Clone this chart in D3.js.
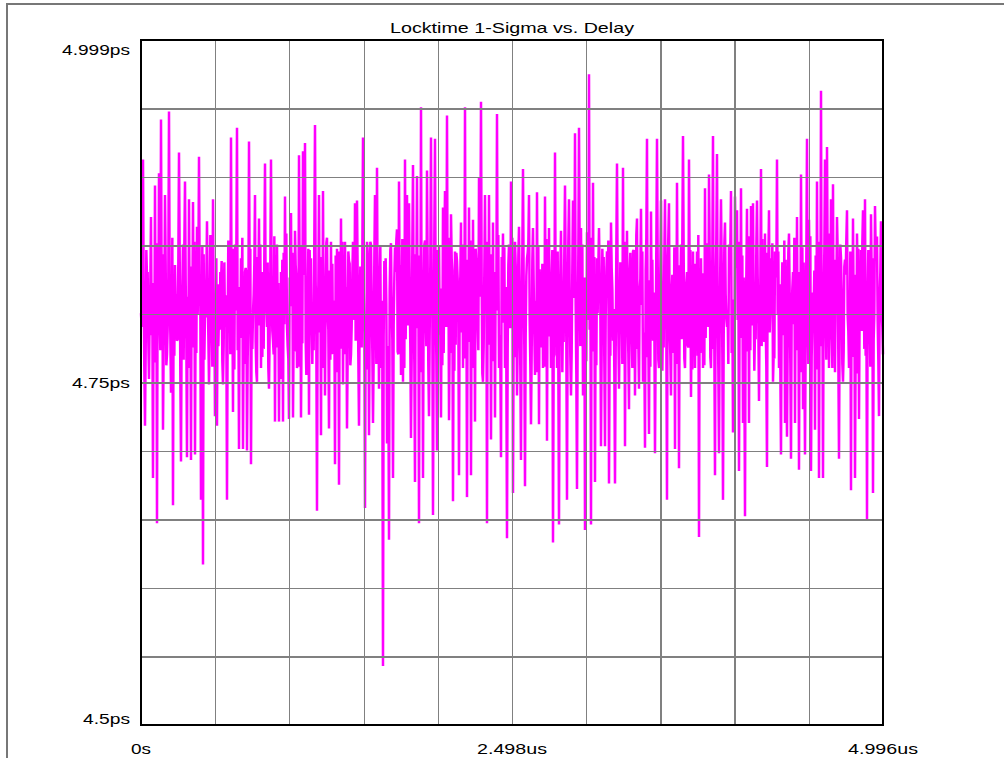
<!DOCTYPE html>
<html>
<head>
<meta charset="utf-8">
<script src="https://cdn.jsdelivr.net/npm/d3@7"></script>
<style>
  html, body { margin: 0; padding: 0; background: #ffffff; }
  svg { display: block; }
  text { font-family: "Liberation Sans", Arial, sans-serif; fill: #000; }
</style>
</head>
<body>
<svg id="chart" width="1004" height="758"></svg>
<script>
// ---- data ----
const chartTitle = "Locktime 1-Sigma vs. Delay";
const delayRangeUs = [0, 4.996];          // x axis: delay, microseconds
const sigmaRangePs = [4.5, 4.999];        // y axis: locktime 1-sigma, picoseconds
const xTickValues = [0, 2.498, 4.996];
const xTickLabels = ["0s", "2.498us", "4.996us"];
const yTickValues = [4.999, 4.75, 4.5];
const yTickLabels = ["4.999ps", "4.75ps", "4.5ps"];

// locktime 1-sigma (ps): spike samples, uniformly spaced over the delay range
const sigmaA = [4.800,4.912,4.718,4.826,4.752,4.870,4.680,4.893,4.647,4.902,
  4.941,4.715,4.886,4.770,4.947,4.742,4.660,4.835,4.780,4.917,
  4.692,4.850,4.896,4.695,4.883,4.693,4.881,4.697,4.863,4.914,
  4.664,4.617,4.800,4.867,4.748,4.835,4.883,4.725,4.718,4.800,
  4.822,4.748,4.790,4.664,4.830,4.928,4.728,4.850,4.935,4.701,
  4.840,4.701,4.830,4.700,4.925,4.690,4.800,4.886,4.750,4.869,
  4.760,4.830,4.909,4.790,4.745,4.912,4.780,4.721,4.850,4.721,
  4.830,4.721,4.885,4.790,4.723];
const sigmaB = [4.873,4.724,4.860,4.760,4.915,4.724,4.918,4.924,4.760,4.726,
  4.840,4.800,4.937,4.656,4.886,4.711,4.889,4.740,4.855,4.716,
  4.852,4.770,4.690,4.847,4.675,4.869,4.748,4.852,4.716,4.838,
  4.770,4.852,4.880,4.882,4.718,4.830,4.928,4.658,4.852,4.711,
  4.850,4.720,4.886,4.906,4.745,4.760,4.543,4.822,4.705,4.635,
  4.851,4.680,4.848,4.861,4.896,4.755,4.750,4.912,4.886,4.880,
  4.709,4.908,4.677,4.900,4.647,4.950,4.680,4.853,4.904,4.725,
  4.928,4.653,4.927,4.700];
const sigmaC = [4.849,4.724,4.877,4.889,4.944,4.722,4.872,4.663,4.845,4.838,
  4.682,4.866,4.760,4.950,4.666,4.877,4.682,4.868,4.721,4.840,
  4.899,4.954,4.750,4.886,4.647,4.886,4.708,4.866,4.724,4.945,
  4.760,4.695,4.858,4.760,4.636,4.850,4.896,4.669,4.852,4.740,
  4.863,4.693,4.905,4.674,4.840,4.886,4.719,4.862,4.755,4.888,
  4.719,4.830,4.760,4.885,4.707,4.862,4.760,4.633,4.917,4.760,
  4.646,4.860,4.800,4.893,4.664,4.883,4.740,4.882,4.931,4.672,
  4.935,4.862,4.740,4.642,4.859];
const sigmaD = [4.974,4.646,4.895,4.677,4.840,4.862,4.703,4.825,4.703,4.845,
  4.676,4.866,4.780,4.676,4.909,4.745,4.800,4.906,4.703,4.860,
  4.730,4.820,4.845,4.740,4.869,4.745,4.876,4.750,4.702,4.927,
  4.712,4.874,4.780,4.698,4.927,4.760,4.882,4.800,4.883,4.664,
  4.880,4.740,4.820,4.701,4.895,4.687,4.850,4.929,4.760,4.830,
  4.912,4.739,4.845,4.760,4.845,4.637,4.840,4.760,4.891,4.800,
  4.901,4.760,4.929,4.682,4.916,4.698,4.883,4.664,4.866,4.790,
  4.850,4.889,4.713,4.885];
const sigmaE = [4.875,4.685,4.891,4.720,4.652,4.876,4.720,4.878,4.880,4.787,
  4.882,4.736,4.905,4.780,4.858,4.688,4.875,4.840,4.750,4.845,
  4.912,4.760,4.697,4.820,4.720,4.710,4.858,4.694,4.830,4.720,
  4.870,4.686,4.901,4.730,4.697,4.927,4.868,4.685,4.815,4.715,
  4.896,4.680,4.962,4.680,4.912,4.921,4.760,4.883,4.894,4.757,
  4.870,4.694,4.840,4.750,4.839,4.875,4.760,4.671,4.869,4.680,
  4.858,4.723,4.846,4.875,4.883,4.650,4.800,4.872,4.669,4.878,
  4.855,4.725,4.867,4.770];

// in-band samples between consecutive spike samples (ps): first and second
const sigmaBand = [
  4.790,4.815,4.772,4.830,4.801,4.784,4.822,4.768,4.840,4.795,
  4.811,4.777,4.836,4.789,4.818,4.770,4.828,4.806,4.781,4.845,
  4.793,4.766,4.824,4.812,4.786,4.834,4.775,4.808,4.799,4.827,
  4.771,4.843,4.797,4.816,4.780,4.831,4.804,4.769,4.821,4.788,
  4.838,4.776,4.813,4.794,4.829,4.783,4.847,4.802,4.773,4.819,
  4.807,4.785,4.833,4.767,4.825,4.798,4.814,4.779,4.841,4.791,
  4.820,4.774,4.809,4.837,4.787,4.817,4.770,4.832,4.796,4.812,
  4.782,4.844,4.800,4.776,4.826,4.805,4.789,4.835,4.768,4.818,
  4.797,4.828,4.781,4.810,4.846,4.792,4.773,4.823,4.803,4.786,
  4.839,4.778,4.815,4.799,4.831,4.770,4.808,4.842,4.794,4.817,
  4.784,4.827,4.806,4.771,4.836,4.790,4.813,4.780,4.829,4.801,
  4.775,4.820,4.793,4.845,4.787,4.811,4.769,4.834,4.798,4.822,
  4.809,4.783,4.840,4.776,4.816,4.803,4.791,4.830,4.772,4.819,
  4.795,4.838,4.781,4.812,4.824,4.767,4.807,4.843,4.789,4.826,
  4.779,4.814,4.800,4.835,4.785,4.821,4.774,4.810,4.846,4.792,
  4.818,4.771,4.829,4.797,4.782,4.840,4.804,4.777,4.825,4.808,
  4.786,4.833,4.768,4.815,4.799,4.828,4.780,4.847,4.794,4.812,
  4.823,4.776,4.806,4.838,4.788,4.817,4.771,4.830,4.802,4.784,
  4.841,4.793,4.819,4.773,4.827,4.805,4.790,4.836,4.778,4.813,
  4.798,4.825,4.782,4.844,4.796,4.770,4.822,4.809,4.787,4.832,
  4.775,4.816,4.801,4.839,4.783,4.826,4.768,4.811,4.845,4.791,
  4.820,4.779,4.834,4.797,4.814,4.772,4.828,4.806,4.785,4.842,
  4.794,4.769,4.823,4.810,4.788,4.837,4.776,4.807,4.800,4.829,
  4.773,4.841,4.796,4.818,4.781,4.833,4.803,4.770,4.820,4.789,
  4.836,4.777,4.812,4.795,4.830,4.784,4.846,4.801,4.774,4.817,
  4.806,4.786,4.831,4.768,4.824,4.799,4.815,4.778,4.840,4.792,
  4.821,4.775,4.808,4.836,4.788,4.816,4.771,4.833,4.797,4.811,
  4.781,4.843,4.802,4.777,4.825,4.804,4.790,4.834,4.769,4.819,
  4.798,4.827,4.782,4.809,4.845,4.793,4.774,4.822,4.805,4.787,
  4.838,4.779,4.814,4.800,4.830,4.771,4.807,4.841,4.795,4.816,
  4.785,4.826,4.805,4.772,4.835,4.791,4.812,4.781,4.828,4.802,
  4.776,4.819,4.794,4.844,4.786,4.810,4.770,4.833,4.799,4.821,
  4.808,4.784,4.839,4.777,4.815,4.802,4.792,4.829,4.773,4.818,
  4.796,4.837,4.780,4.813,4.823,4.768,4.806,4.842,4.790,4.825,
  4.778,4.815,4.801,4.834,4.786,4.820,4.775,4.811,4.845,4.793,
  4.817,4.772,4.828,4.798,4.783,4.839,4.803,4.778,4.824,4.807,
  4.787,4.832,4.769,4.814,4.800,4.827,4.781,4.846,4.795,4.812,
  4.800];
const sigmaBand2 = [
  4.832,4.758,4.846,4.779,4.821,4.805,4.764,4.851,4.790,4.773,
  4.843,4.801,4.762,4.827,4.785,4.855,4.769,4.814,4.838,4.756,
  4.819,4.848,4.781,4.760,4.834,4.797,4.852,4.771,4.826,4.808,
  4.849,4.766,4.823,4.784,4.857,4.761,4.812,4.840,4.776,4.830,
  4.765,4.837,4.793,4.853,4.770,4.818,4.759,4.844,4.811,4.782,
  4.855,4.763,4.829,4.796,4.847,4.774,4.836,4.757,4.817,4.850,
  4.768,4.842,4.803,4.760,4.833,4.787,4.856,4.775,4.822,4.752,
  4.839,4.792,4.858,4.767,4.815,4.844,4.772,4.826,4.761,4.849,
  4.778,4.831,4.755,4.847,4.799,4.763,4.854,4.783,4.820,4.841,
  4.760,4.824,4.851,4.788,4.766,4.836,4.809,4.757,4.845,4.774,
  4.852,4.770,4.819,4.845,4.762,4.828,4.795,4.856,4.768,4.834,
  4.843,4.786,4.759,4.827,4.852,4.772,4.840,4.763,4.812,4.849,
  4.765,4.838,4.807,4.758,4.846,4.781,4.825,4.853,4.770,4.835,
  4.854,4.760,4.832,4.791,4.775,4.848,4.764,4.819,4.842,4.757,
  4.829,4.850,4.776,4.761,4.837,4.802,4.857,4.769,4.823,4.784,
  4.762,4.846,4.790,4.855,4.771,4.831,4.758,4.844,4.797,4.827,
  4.850,4.767,4.839,4.779,4.853,4.760,4.818,4.837,4.773,4.846,
  4.756,4.831,4.852,4.777,4.843,4.765,4.828,4.806,4.857,4.770,
  4.824,4.848,4.762,4.835,4.789,4.855,4.768,4.815,4.841,4.759,
  4.844,4.774,4.827,4.851,4.763,4.838,4.785,4.757,4.849,4.803,
  4.836,4.761,4.854,4.787,4.822,4.846,4.770,4.840,4.764,4.829,
  4.757,4.845,4.780,4.852,4.768,4.833,4.811,4.756,4.843,4.776,
  4.850,4.826,4.765,4.795,4.855,4.772,4.841,4.762,4.834,4.807,
  4.847,4.764,4.830,4.853,4.769,4.818,4.758,4.846,4.786,4.837,
  4.763,4.852,4.800,4.771,4.844,4.760,4.827,4.857,4.779,4.825,
  4.845,4.773,4.855,4.784,4.761,4.839,4.794,4.849,4.766,4.832,
  4.758,4.841,4.788,4.856,4.770,4.828,4.848,4.763,4.835,4.805,
  4.853,4.767,4.822,4.775,4.846,4.759,4.836,4.801,4.857,4.771,
  4.829,4.762,4.851,4.790,4.768,4.843,4.777,4.854,4.760,4.838,
  4.771,4.850,4.796,4.763,4.847,4.810,4.756,4.833,4.852,4.782,
  4.842,4.765,4.827,4.856,4.773,4.839,4.758,4.848,4.792,4.821,
  4.854,4.779,4.761,4.836,4.804,4.851,4.767,4.826,4.845,4.760,
  4.837,4.853,4.772,4.844,4.764,4.818,4.855,4.783,4.830,4.757,
  4.848,4.770,4.840,4.763,4.856,4.797,4.831,4.759,4.852,4.776,
  4.825,4.845,4.766,4.858,4.781,4.760,4.839,4.812,4.769,4.850,
  4.763,4.834,4.853,4.787,4.845,4.768,4.828,4.756,4.847,4.793,
  4.851,4.774,4.823,4.846,4.761,4.840,4.799,4.855,4.766,4.830,
  4.790];
const gridDivisions = 10;

// ---- combine: spike, band, band2, spike, ... ----
const spikes = [].concat(sigmaA, sigmaB, sigmaC, sigmaD, sigmaE);
const sigmaPs = [];
spikes.forEach((v, i) => {
  sigmaPs.push(v);
  if (i < spikes.length - 1) {
    if (i < sigmaBand.length) sigmaPs.push(sigmaBand[i]);
    if (i < sigmaBand2.length) sigmaPs.push(sigmaBand2[i]);
  }
});

// ---- layout ----
const plot = { left: 141, right: 883, top: 40, bottom: 725 };
const svg = d3.select("#chart");

const x = d3.scaleLinear().domain(delayRangeUs).range([plot.left, plot.right]);
const y = d3.scaleLinear().domain(sigmaRangePs).range([plot.bottom, plot.top]);

const n = sigmaPs.length;
const points = sigmaPs.map((v, i) => ({
  t: delayRangeUs[0] + (delayRangeUs[1] - delayRangeUs[0]) * i / (n - 1),
  v
}));

// outer frame
svg.append("path")
  .attr("d", `M7,758 L7,4 L1004,4`)
  .attr("fill", "none")
  .attr("stroke", "#777")
  .attr("stroke-width", 2);

// data trace
svg.append("path")
  .datum(points)
  .attr("fill", "none")
  .attr("stroke", "#ff00ff")
  .attr("stroke-width", 2.5)
  .attr("stroke-linejoin", "miter")
  .attr("d", d3.line().x(d => x(d.t)).y(d => y(d.v)));

// grid (drawn over the trace, as in the reference)
const gx = d3.range(1, gridDivisions).map(i => delayRangeUs[0] + (delayRangeUs[1] - delayRangeUs[0]) * i / gridDivisions);
const gy = d3.range(1, gridDivisions).map(i => sigmaRangePs[0] + (sigmaRangePs[1] - sigmaRangePs[0]) * i / gridDivisions);

svg.append("g")
  .attr("transform", `translate(0,${plot.bottom})`)
  .call(d3.axisBottom(x).tickValues(gx).tickSize(-(plot.bottom - plot.top)).tickFormat(""))
  .call(g => g.select(".domain").remove())
  .call(g => g.selectAll(".tick line").attr("stroke", "#808080").attr("stroke-width", 1.2).attr("shape-rendering", "crispEdges"));

svg.append("g")
  .attr("transform", `translate(${plot.left},0)`)
  .call(d3.axisLeft(y).tickValues(gy).tickSize(-(plot.right - plot.left)).tickFormat(""))
  .call(g => g.select(".domain").remove())
  .call(g => g.selectAll(".tick line").attr("stroke", "#808080").attr("stroke-width", 1.2).attr("shape-rendering", "crispEdges"));

// plot border
svg.append("rect")
  .attr("x", plot.left).attr("y", plot.top)
  .attr("width", plot.right - plot.left).attr("height", plot.bottom - plot.top)
  .attr("fill", "none").attr("stroke", "#000").attr("stroke-width", 2);

// title
svg.append("text")
  .attr("x", (plot.left + plot.right) / 2).attr("y", 33)
  .attr("text-anchor", "middle")
  .attr("font-size", 15)
  .attr("textLength", 244).attr("lengthAdjust", "spacingAndGlyphs")
  .text(chartTitle);

// y labels
const yLabelDy = [15, 6, -1];
const yLabelW = [68, 58, 47];
yTickValues.forEach((v, i) => {
  svg.append("text")
    .attr("x", 130).attr("y", y(v) + yLabelDy[i])
    .attr("text-anchor", "end")
    .attr("font-size", 15)
    .attr("textLength", yLabelW[i]).attr("lengthAdjust", "spacingAndGlyphs")
    .text(yTickLabels[i]);
});

// x labels
const xLabelW = [20, 70, 70];
xTickValues.forEach((v, i) => {
  svg.append("text")
    .attr("x", x(v)).attr("y", 754)
    .attr("text-anchor", "middle")
    .attr("font-size", 15)
    .attr("textLength", xLabelW[i]).attr("lengthAdjust", "spacingAndGlyphs")
    .text(xTickLabels[i]);
});
</script>
</body>
</html>
